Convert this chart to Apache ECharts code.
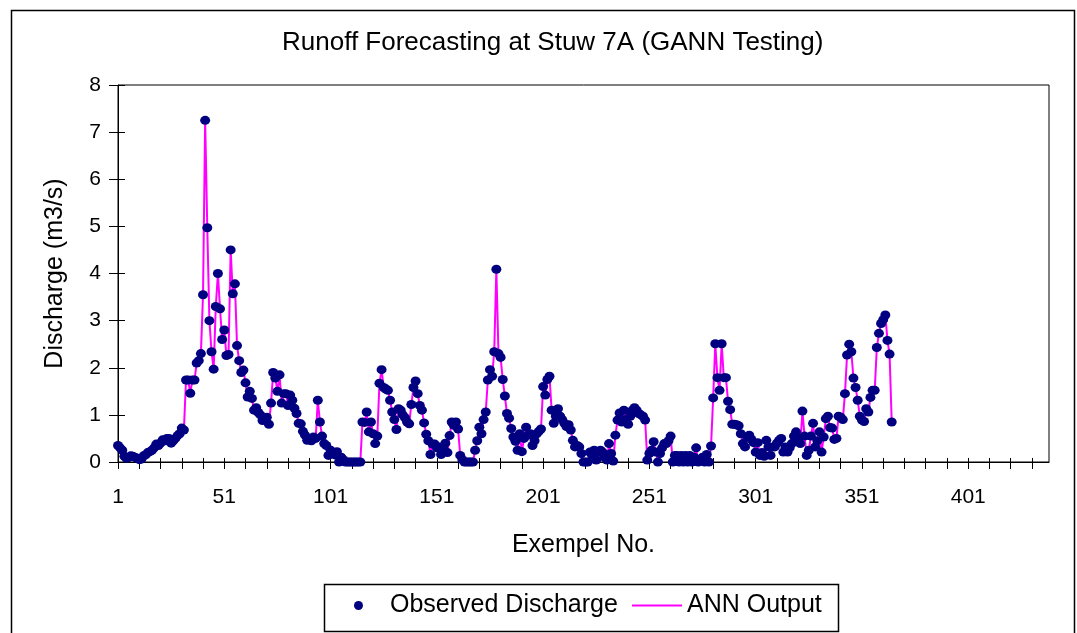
<!DOCTYPE html>
<html>
<head>
<meta charset="utf-8">
<title>Runoff Forecasting at Stuw 7A</title>
<script src="https://cdn.jsdelivr.net/npm/echarts@6/dist/echarts.min.js"></script>
<style>
  html, body { margin: 0; padding: 0; background: #fff; }
  #chart { width: 1077px; height: 633px; }
</style>
</head>
<body>
<div id="chart"></div>
<script>
// Text
const chartTitle = 'Runoff Forecasting at Stuw 7A (GANN Testing)';
const xAxisTitle = 'Exempel No.';
const yAxisTitle = 'Discharge (m3/s)';
const seriesNames = ['Observed Discharge', 'ANN Output'];

// Example numbers along the x axis (1 .. 439)
const exempelCount = 439;
const exempelNo = [];
for (let k = 1; k <= exempelCount; k++) exempelNo.push(String(k));

// Discharge scale
const yMin = 0;
const yMax = 8;
const yStep = 1;

// Observed discharge (m3/s), one value per example
const observed = [
  0.35,0.3,0.25,0.12,0.08,0.1,0.13,0.12,0.1,0.08,
  0.05,0.06,0.13,0.15,0.2,0.22,0.25,0.3,0.38,0.35,
  0.4,0.47,0.45,0.5,0.5,0.4,0.45,0.5,0.56,0.6,
  0.72,0.68,1.74,1.74,1.46,1.74,1.74,2.1,2.15,2.3,
  3.55,7.25,4.97,3.0,2.34,1.97,3.3,4.0,3.25,2.6,
  2.8,2.26,2.28,4.5,3.57,3.78,2.47,2.15,1.9,1.95,
  1.68,1.38,1.5,1.35,1.1,1.15,1.05,1.0,0.88,0.9,
  0.95,0.8,1.25,1.9,1.78,1.5,1.85,1.25,1.45,1.45,
  1.2,1.42,1.31,1.14,1.03,0.82,0.81,0.65,0.57,0.46,
  0.5,0.45,0.53,0.5,1.31,0.85,0.55,0.39,0.35,0.14,
  0.25,0.2,0.15,0.22,0.0,0.1,0.05,0.0,0.0,0.0,
  0.0,0.0,0.0,0.0,0.0,0.85,0.84,1.06,0.64,0.85,
  0.6,0.39,0.55,1.67,1.96,1.58,1.55,1.52,1.31,1.06,
  0.9,0.69,1.13,1.1,1.0,0.94,0.85,0.81,1.22,1.58,
  1.72,1.45,1.2,1.1,0.83,0.59,0.45,0.16,0.38,0.38,
  0.3,0.32,0.16,0.3,0.4,0.2,0.56,0.85,0.78,0.85,
  0.7,0.14,0.05,0.0,0.0,0.0,0.0,0.0,0.25,0.45,
  0.74,0.6,0.9,1.06,1.74,1.96,1.82,2.34,4.09,2.3,
  2.22,1.75,1.4,1.03,0.93,0.71,0.53,0.44,0.25,0.6,
  0.22,0.5,0.74,0.57,0.6,0.35,0.45,0.6,0.65,0.7,
  1.6,1.42,1.75,1.82,1.1,0.82,0.97,1.13,0.97,0.9,
  0.82,0.75,0.79,0.68,0.46,0.32,0.35,0.32,0.18,0.0,
  0.0,0.0,0.21,0.15,0.25,0.04,0.2,0.25,0.21,0.1,
  0.04,0.39,0.18,0.02,0.57,0.89,1.04,0.85,1.1,0.9,
  0.8,0.97,1.1,1.15,1.1,1.03,1.0,0.97,0.89,0.04,
  0.18,0.25,0.43,0.21,0.0,0.18,0.3,0.39,0.39,0.45,
  0.55,0.0,0.14,0.14,0.0,0.14,0.0,0.14,0.0,0.14,
  0.0,0.1,0.3,0.0,0.05,0.1,0.0,0.16,0.0,0.34,
  1.36,2.51,1.79,1.52,2.51,1.79,1.79,1.29,1.11,0.8,
  0.8,0.79,0.77,0.6,0.39,0.32,0.53,0.57,0.48,0.41,
  0.21,0.41,0.14,0.2,0.12,0.46,0.32,0.14,0.32,0.32,
  0.4,0.46,0.5,0.21,0.32,0.21,0.3,0.39,0.55,0.64,
  0.5,0.39,1.08,0.55,0.14,0.25,0.55,0.82,0.32,0.45,
  0.64,0.21,0.53,0.92,0.97,0.73,0.72,0.48,0.5,0.97,
  0.95,0.9,1.45,2.27,2.5,2.34,1.78,1.58,1.31,0.97,
  0.89,0.86,1.13,1.06,1.37,1.52,1.52,2.43,2.73,2.94,
  3.02,3.12,2.58,2.29,0.85
];

// Network output (m3/s), one value per example
const annOutput = [
  0.35,0.3,0.25,0.12,0.08,0.1,0.13,0.12,0.1,0.08,
  0.05,0.06,0.13,0.15,0.2,0.22,0.25,0.3,0.38,0.35,
  0.4,0.47,0.45,0.5,0.5,0.4,0.45,0.5,0.56,0.6,
  0.72,0.68,1.74,1.74,1.46,1.74,1.74,2.1,2.15,2.3,
  3.55,7.25,4.97,3.0,2.34,1.97,3.3,4.0,3.25,2.6,
  2.8,2.26,2.28,4.5,3.57,3.78,2.47,2.15,1.9,1.95,
  1.68,1.38,1.5,1.35,1.1,1.15,1.05,1.0,0.88,0.9,
  0.95,0.8,1.25,1.9,1.78,1.5,1.85,1.25,1.45,1.45,
  1.2,1.42,1.31,1.14,1.03,0.82,0.81,0.65,0.57,0.46,
  0.5,0.45,0.53,0.5,1.31,0.85,0.55,0.39,0.35,0.14,
  0.25,0.2,0.15,0.22,0.0,0.1,0.05,0.0,0.0,0.0,
  0.0,0.0,0.0,0.0,0.0,0.85,0.84,1.06,0.64,0.85,
  0.6,0.39,0.55,1.67,1.96,1.58,1.55,1.52,1.31,1.06,
  0.9,0.69,1.13,1.1,1.0,0.94,0.85,0.81,1.22,1.58,
  1.72,1.45,1.2,1.1,0.83,0.59,0.45,0.16,0.38,0.38,
  0.3,0.32,0.16,0.3,0.4,0.2,0.56,0.85,0.78,0.85,
  0.7,0.14,0.05,0.0,0.0,0.0,0.0,0.0,0.25,0.45,
  0.74,0.6,0.9,1.06,1.74,1.96,1.82,2.34,4.09,2.3,
  2.22,1.75,1.4,1.03,0.93,0.71,0.53,0.44,0.25,0.6,
  0.22,0.5,0.74,0.57,0.6,0.35,0.45,0.6,0.65,0.7,
  1.6,1.42,1.75,1.82,1.1,0.82,0.97,1.13,0.97,0.9,
  0.82,0.75,0.79,0.68,0.46,0.32,0.35,0.32,0.18,0.0,
  0.0,0.0,0.21,0.15,0.25,0.04,0.2,0.25,0.21,0.1,
  0.04,0.39,0.18,0.02,0.57,0.89,1.04,0.85,1.1,0.9,
  0.8,0.97,1.1,1.15,1.1,1.03,1.0,0.97,0.89,0.04,
  0.18,0.25,0.43,0.21,0.0,0.18,0.3,0.39,0.39,0.45,
  0.55,0.0,0.14,0.14,0.0,0.14,0.0,0.14,0.0,0.14,
  0.0,0.1,0.3,0.0,0.05,0.1,0.0,0.16,0.0,0.34,
  1.36,2.51,1.79,1.52,2.51,1.79,1.79,1.29,1.11,0.8,
  0.8,0.79,0.77,0.6,0.39,0.32,0.53,0.57,0.48,0.41,
  0.21,0.41,0.14,0.2,0.12,0.46,0.32,0.14,0.32,0.32,
  0.4,0.46,0.5,0.21,0.32,0.21,0.3,0.39,0.55,0.64,
  0.5,0.39,1.08,0.55,0.14,0.25,0.55,0.82,0.32,0.45,
  0.64,0.21,0.53,0.92,0.97,0.73,0.72,0.48,0.5,0.97,
  0.95,0.9,1.45,2.27,2.5,2.34,1.78,1.58,1.31,0.97,
  0.89,0.86,1.13,1.06,1.37,1.52,1.52,2.43,2.73,2.94,
  3.02,3.12,2.58,2.29,0.85
];

const FONT = '"Liberation Sans", Arial, Helvetica, sans-serif';
const INK = '#000000';
const NAVY = '#000080';
const MAGENTA = '#FF00FF';

const plotRect = { left: 118, top: 85, width: 931, height: 377 };

const chart = echarts.init(document.getElementById('chart'), null, { renderer: 'canvas' });

const option = {
  animation: false,
  backgroundColor: '#ffffff',
  title: {
    text: chartTitle,
    left: 282,
    top: 30,
    padding: 0,
    textStyle: { fontFamily: FONT, fontSize: 26, fontWeight: 'normal', color: INK }
  },
  legend: [
    {
      data: [{ name: seriesNames[0], icon: 'circle' }],
      left: 354,
      top: 593,
      padding: 0,
      itemWidth: 9,
      itemHeight: 9,
      selectedMode: false,
      textStyle: { fontFamily: FONT, fontSize: 25, color: INK, padding: [0, 0, 10, 22] }
    },
    {
      data: [{ name: seriesNames[1], icon: 'rect' }],
      left: 632,
      top: 593,
      padding: 0,
      itemWidth: 50,
      itemHeight: 2,
      selectedMode: false,
      textStyle: { fontFamily: FONT, fontSize: 25, color: INK, padding: [0, 0, 10, 0] }
    }
  ],
  grid: [
    Object.assign({ show: true, borderColor: INK, borderWidth: 1, backgroundColor: 'transparent', containLabel: false }, plotRect),
    Object.assign({ show: false, containLabel: false }, plotRect)
  ],
  xAxis: [
    {
      gridIndex: 0,
      type: 'category',
      data: exempelNo,
      boundaryGap: false,
      name: xAxisTitle,
      nameLocation: 'middle',
      nameGap: 71,
      nameTextStyle: { fontFamily: FONT, fontSize: 25, color: INK },
      axisLine: { lineStyle: { color: INK, width: 1 } },
      axisTick: { interval: 9, length: 7, lineStyle: { color: INK, width: 1 } },
      axisLabel: { interval: 49, margin: 25, fontFamily: FONT, fontSize: 21, color: INK },
      splitLine: { show: false }
    },
    {
      gridIndex: 1,
      type: 'category',
      data: exempelNo,
      boundaryGap: false,
      axisLine: { show: false },
      axisTick: { inside: true, interval: 9, length: 4, lineStyle: { color: INK, width: 1 } },
      axisLabel: { show: false },
      splitLine: { show: false }
    }
  ],
  yAxis: [
    {
      gridIndex: 0,
      type: 'value',
      min: yMin,
      max: yMax,
      interval: yStep,
      name: yAxisTitle,
      nameLocation: 'middle',
      nameRotate: 90,
      nameGap: 50,
      nameTextStyle: { fontFamily: FONT, fontSize: 25, color: INK },
      axisLine: { show: true, lineStyle: { color: INK, width: 1 } },
      axisTick: { show: true, length: 9, lineStyle: { color: INK, width: 1 } },
      axisLabel: { margin: 17, fontFamily: FONT, fontSize: 21, color: INK },
      splitLine: { show: false }
    },
    {
      gridIndex: 1,
      type: 'value',
      min: yMin,
      max: yMax,
      interval: yStep,
      axisLine: { show: false },
      axisTick: { show: true, inside: true, length: 7, lineStyle: { color: INK, width: 1 } },
      axisLabel: { show: false },
      splitLine: { show: false }
    }
  ],
  series: [
    {
      name: seriesNames[0],
      type: 'scatter',
      xAxisIndex: 0,
      yAxisIndex: 0,
      data: observed,
      symbol: 'circle',
      symbolSize: [10, 9],
      itemStyle: { color: NAVY, opacity: 1 },
      z: 4
    },
    {
      name: seriesNames[1],
      type: 'line',
      xAxisIndex: 0,
      yAxisIndex: 0,
      data: annOutput,
      symbol: 'none',
      showSymbol: false,
      lineStyle: { color: MAGENTA, width: 2 },
      itemStyle: { color: MAGENTA },
      z: 3
    }
  ],
  graphic: [
    {
      type: 'rect',
      silent: true,
      shape: { x: 11.5, y: 10.5, width: 1063, height: 640 },
      style: { fill: 'none', stroke: INK, lineWidth: 1.5 }
    },
    {
      type: 'rect',
      silent: true,
      shape: { x: 324.5, y: 584.5, width: 514, height: 47 },
      style: { fill: 'none', stroke: INK, lineWidth: 1.5 }
    }
  ]
};

chart.setOption(option);
</script>
</body>
</html>
